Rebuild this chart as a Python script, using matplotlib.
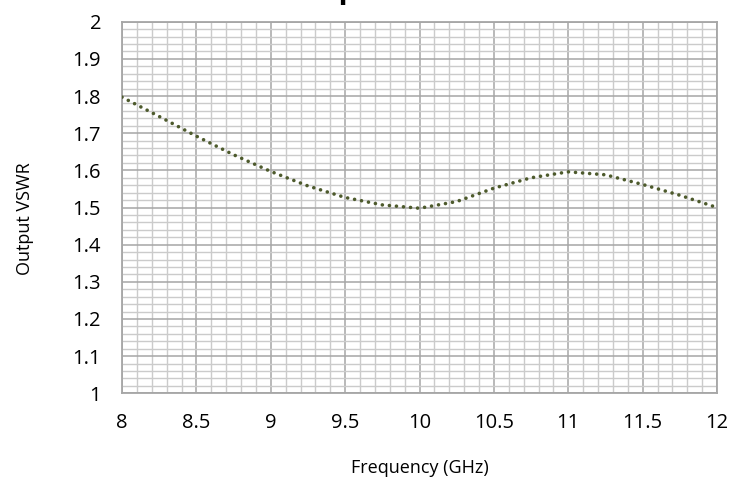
import matplotlib.pyplot as plt
from matplotlib.ticker import MultipleLocator

# frequency (GHz) and output VSWR
freq_ghz = [8.0, 8.25, 8.5, 8.75, 9.0, 9.25, 9.5, 9.75, 10.0,
            10.25, 10.5, 10.75, 11.0, 11.25, 11.5, 11.75, 12.0]
vswr = [1.797, 1.745, 1.692, 1.642, 1.597, 1.558, 1.527, 1.507, 1.498,
        1.516, 1.552, 1.580, 1.596, 1.588, 1.562, 1.533, 1.500]

x_ticks = [8, 8.5, 9, 9.5, 10, 10.5, 11, 11.5, 12]
x_tick_labels = ["8", "8.5", "9", "9.5", "10", "10.5", "11", "11.5", "12"]
y_ticks = [1, 1.1, 1.2, 1.3, 1.4, 1.5, 1.6, 1.7, 1.8, 1.9, 2]
y_tick_labels = ["1", "1.1", "1.2", "1.3", "1.4", "1.5", "1.6", "1.7", "1.8", "1.9", "2"]

plt.rcParams['font.family'] = ['Open Sans', 'DejaVu Sans']

fig = plt.figure(figsize=(7.43, 4.8), dpi=100)
ax = fig.add_axes([122 / 743, 1 - 393.3 / 480, 595 / 743, 371.6 / 480])

# 曲線（点線）
ax.plot(freq_ghz, vswr, color='#4d5a2c', linewidth=2.6,
        linestyle=(0, (0.01, 1.95)), dash_capstyle='round', zorder=3)

ax.set_xlim(8, 12)
ax.set_ylim(1, 2)
ax.set_xticks(x_ticks)
ax.set_xticklabels(x_tick_labels)
ax.set_yticks(y_ticks)
ax.set_yticklabels(y_tick_labels)
ax.xaxis.set_minor_locator(MultipleLocator(0.1))
ax.yaxis.set_minor_locator(MultipleLocator(0.02))

ax.grid(True, which='minor', color='#cbcbcb', linewidth=1.0, zorder=0)
ax.grid(True, which='major', color='#a6a6a6', linewidth=1.1, zorder=1)
ax.set_axisbelow(True)

for sp in ax.spines.values():
    sp.set_color('#a6a6a6')
    sp.set_linewidth(1.3)

ax.tick_params(which='both', length=0)
ax.tick_params(axis='y', labelsize=14.5, pad=15)
ax.tick_params(axis='x', labelsize=14.5, pad=14)

ax.set_xlabel("Frequency (GHz)", fontsize=13, labelpad=19)
ax.set_ylabel("Output VSWR", fontsize=13)
ax.yaxis.set_label_coords(-0.148, 0.47)

# 上で切れたタイトル
fig.text(0.516, 1.004, "Output VSWR", fontsize=22, fontweight='bold',
         ha='center', va='baseline')

fig.savefig("out.png", dpi=100)
